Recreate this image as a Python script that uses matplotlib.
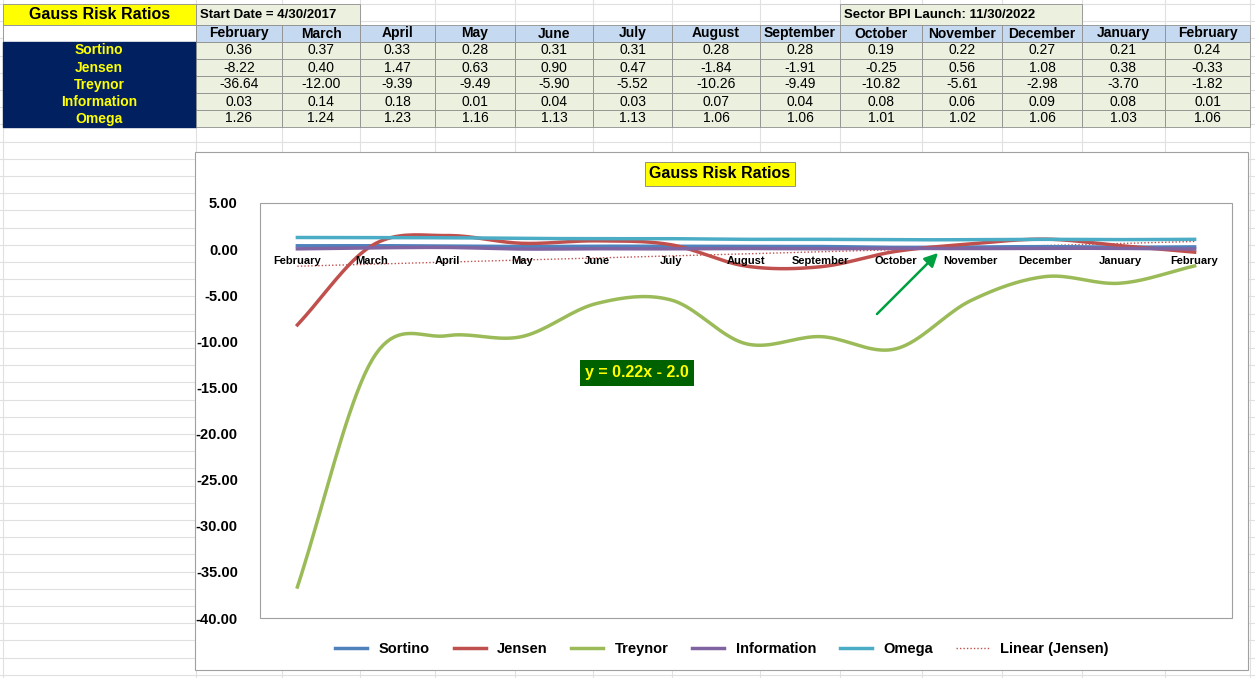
import numpy as np
import matplotlib
matplotlib.use("Agg")
import matplotlib.pyplot as plt
from matplotlib.patches import Rectangle, FancyArrowPatch

plt.rcParams["font.family"] = ["Liberation Sans", "DejaVu Sans"]

months = ["February","March","April","May","June","July","August","September","October","November","December","January","February"]
sortino = [0.36,0.37,0.33,0.28,0.31,0.31,0.28,0.28,0.19,0.22,0.27,0.21,0.24]
jensen = [-8.22,0.40,1.47,0.63,0.90,0.47,-1.84,-1.91,-0.25,0.56,1.08,0.38,-0.33]
treynor = [-36.64,-12.00,-9.39,-9.49,-5.90,-5.52,-10.26,-9.49,-10.82,-5.61,-2.98,-3.70,-1.82]
information = [0.03,0.14,0.18,0.01,0.04,0.03,0.07,0.04,0.08,0.06,0.09,0.08,0.01]
omega = [1.26,1.24,1.23,1.16,1.13,1.13,1.06,1.06,1.01,1.02,1.06,1.03,1.06]
names = ["Sortino","Jensen","Treynor","Information","Omega"]
series = [sortino,jensen,treynor,information,omega]
colors = ["#4F81BD","#C0504D","#9BBB59","#8064A2","#4BACC6"]
trend_label = "y = 0.22x - 2.0"

W, H = 1255, 678
fig = plt.figure(figsize=(W/100, H/100), dpi=100)
bg = fig.add_axes([0,0,1,1]); bg.set_xlim(0,W); bg.set_ylim(H,0); bg.axis("off")

for y in np.arange(4, H, 17.2):
    bg.plot([0,W],[y,y],color="#E0E0E0",lw=0.8,zorder=0)
colx = [3,196,282,360,435,515,593,672,760,840,922,1002,1082,1165,1250]
for x in colx:
    bg.plot([x,x],[0,H],color="#E0E0E0",lw=0.8,zorder=0)

def cell(x0,x1,y0,y1,fc,text="",tc="black",bold=False,ha="center",size=10):
    bg.add_patch(Rectangle((x0,y0),x1-x0,y1-y0,fc=fc,ec="#8E8E8E",lw=0.6,zorder=1))
    if text:
        tx = (x0+x1)/2 if ha=="center" else x0+4
        bg.text(tx,(y0+y1)/2,text,ha=ha,va="center",color=tc,fontsize=size,
                fontweight="bold" if bold else "normal",zorder=2)

cell(3,196,4,25,"#FFFF00","Gauss Risk Ratios",bold=True,size=11.5)
cell(196,360,4,25,"#EBF1DE","Start Date = 4/30/2017",ha="left",bold=True,size=9.5)
cell(840,1082,4,25,"#EBF1DE","Sector BPI Launch: 11/30/2022",ha="left",bold=True,size=9.5)
cell(3,196,25,42,"white")
for i,m in enumerate(months):
    cell(colx[i+1],colx[i+2],25,42,"#C5D9F1",m,bold=True,size=10)
rows_y = [42,59,76,93,110,127]
for r,(n,s) in enumerate(zip(names,series)):
    y0,y1 = rows_y[r],rows_y[r+1]
    bg.add_patch(Rectangle((3,y0),193,17,fc="#002060",ec="#002060",zorder=1))
    bg.text(99,(y0+y1)/2,n,ha="center",va="center",color="#FFFF00",fontweight="bold",fontsize=10,zorder=2)
    for i,v in enumerate(s):
        cell(colx[i+1],colx[i+2],y0,y1,"#EBF1DE",f"{v:.2f}",size=10)

bg.add_patch(Rectangle((195,152),1053,518,fc="white",ec="#A0A0A0",lw=0.8,zorder=1))
bg.add_patch(Rectangle((260,203),972,415,fc="white",ec="#A0A0A0",lw=0.8,zorder=2))
bg.text(720,174,"Gauss Risk Ratios",ha="center",va="center",fontsize=11.5,fontweight="bold",
        bbox=dict(boxstyle="square,pad=0.3",fc="#FFFF00",ec="#808080",lw=0.6),zorder=3)

ax = fig.add_axes([260/W, 1-618/H, 972/W, 415/H])
ax.set_facecolor("none")
ax.set_xlim(-0.5,12.5); ax.set_ylim(-40,5)
for s in ax.spines.values(): s.set_visible(False)
ax.set_xticks([]); ax.set_yticks(np.arange(-40,6,5))
ax.set_yticklabels([f"{v:.2f}" for v in np.arange(-40,6,5)],fontweight="bold",fontsize=10.5)
ax.tick_params(axis="y",length=0,pad=16)

def smooth(y, n=20):
    y = np.asarray(y,float)
    p = np.concatenate([[2*y[0]-y[1]],y,[2*y[-1]-y[-2]]])
    xs, ys = [], []
    for i in range(len(y)-1):
        p0,p1,p2,p3 = p[i],p[i+1],p[i+2],p[i+3]
        t = np.linspace(0,1,n,endpoint=False)
        ys.append(0.5*((2*p1)+(-p0+p2)*t+(2*p0-5*p1+4*p2-p3)*t**2+(-p0+3*p1-3*p2+p3)*t**3))
        xs.append(i+t)
    xs.append([len(y)-1]); ys.append([y[-1]])
    return np.concatenate(xs), np.concatenate(ys)

x = np.arange(len(months))
handles=[]
for n,s,c in zip(names,series,colors):
    xs,ys = smooth(s)
    h, = ax.plot(xs,ys,color=c,lw=2.5,label=n,zorder=3)
    handles.append(h)
k,b = np.polyfit(x+1,jensen,1)
h, = ax.plot(x,k*(x+1)+b,color="#C0504D",lw=1,ls=(0,(1,1.5)),label="Linear (Jensen)",zorder=2)
handles.append(h)
for i,m in enumerate(months):
    ax.text(i,-0.8,m,ha="center",va="top",fontsize=8,fontweight="bold",zorder=4)
bg.text(637,373,trend_label,ha="center",va="center",color="#FFFF00",
        fontsize=11.5,fontweight="bold",bbox=dict(boxstyle="square,pad=0.35",fc="#006100",ec="none"),zorder=5)
bg.add_patch(FancyArrowPatch((875,316),(940,251),arrowstyle="-|>,head_length=8,head_width=4",
                             color="#00A040",lw=1.8,zorder=5))
fig.legend(handles=handles,loc="center",bbox_to_anchor=(722/W,1-649/H),ncol=6,frameon=False,
           prop=dict(weight="bold",size=10.5),handlelength=2.2,columnspacing=1.6)
fig.savefig("out.png",dpi=100)
